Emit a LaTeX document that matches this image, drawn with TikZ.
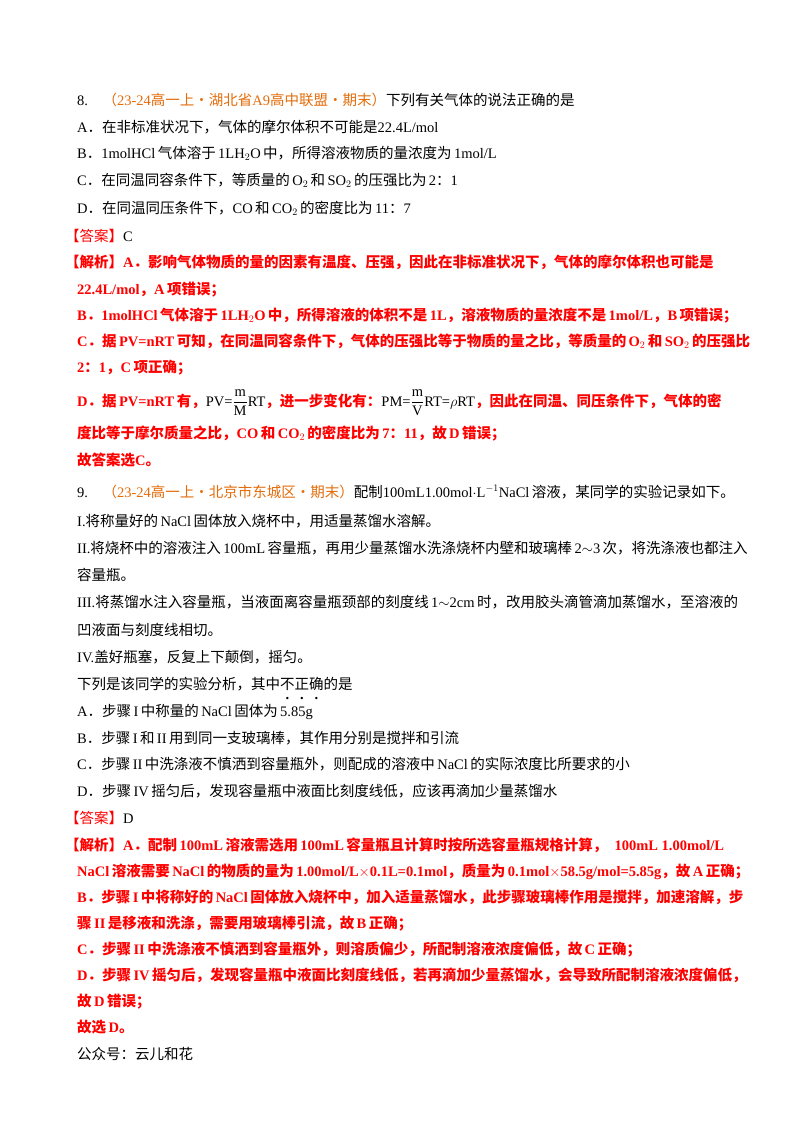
\documentclass[tikz,border=0pt]{standalone}
\usepackage{amsmath}
\usepackage{fontspec}
\setmainfont{Liberation Serif}
\newfontfamily\cjk{Noto Sans CJK SC}
\definecolor{org}{HTML}{E46C0A}
\definecolor{rd}{HTML}{FF0000}
\tikzset{ln/.style={anchor=base west,inner sep=0pt,font=\fontsize{14.5}{16}\selectfont},
 r/.style={ln,text=rd}}
\newcommand\cn[1]{{\cjk #1}}
\newcommand\dotc[1]{\ooalign{#1\cr\hidewidth\smash{\raisebox{-0.72em}{\rmfamily\bfseries .}}\hidewidth\cr}}
\begin{document}
\begin{tikzpicture}[x=1pt,y=-1pt]
\useasboundingbox[fill=white] (0,0) rectangle (800,1132);
\node[ln] (l1) at (77,105) {8.\quad\textcolor{org}{\cn{（}23-24\cn{高一上·湖北省}A9\cn{高中联盟·期末）}}\cn{下列有关气体的说法正确的是}};
\node[ln] (l2) at (77,132) {A\cn{．在非标准状况下，气体的摩尔体积不可能是}22.4L/mol};
\node[ln] (l3) at (77,158) {B\cn{．}1molHCl\,\cn{气体溶于}\,1LH$_2$O\,\cn{中，所得溶液物质的量浓度为}\,1mol/L};
\node[ln] (l4) at (77,185) {C\cn{．在同温同容条件下，等质量的}\,O$_2$\,\cn{和}\,SO$_2$\,\cn{的压强比为}\,2\cn{：}1};
\node[ln] (l5) at (77,213) {D\cn{．在同温同压条件下，}CO\,\cn{和}\,CO$_2$\,\cn{的密度比为}\,11\cn{：}7};
\node[r] (l6) at (65,241) {\cn{【答案】}\textcolor{black}{C}};
\node[r] (l7) at (65,267) {\bfseries\cn{【解析】}A\cn{．影响气体物质的量的因素有温度、压强，因此在非标准状况下，气体的摩尔体积也可能是}};
\node[r] (l8) at (77,294) {\bfseries 22.4L/mol\cn{，}A\,\cn{项错误；}};
\node[r] (l9) at (77,320) {\bfseries B\cn{．}1molHCl\,\cn{气体溶于}\,1LH$_2$O\,\cn{中，所得溶液的体积不是}\,1L\cn{，溶液物质的量浓度不是}\,1mol/L\cn{，}B\,\cn{项错误；}};
\node[r] (l10) at (77,346) {\bfseries C\cn{．据}\,PV=nRT\,\cn{可知，在同温同容条件下，气体的压强比等于物质的量之比，等质量的}\,O$_2$\,\cn{和}\,SO$_2$\,\cn{的压强比}};
\node[r] (l11) at (77,372) {\bfseries 2\cn{：}1\cn{，}C\,\cn{项正确；}};
\node[r] (l12) at (77,406) {\bfseries D\cn{．据}\,PV=nRT\,\cn{有，}\textcolor{black}{\mdseries PV=$\dfrac{\mathrm m}{\mathrm M}$RT}\cn{，进一步变化有：}\textcolor{black}{\mdseries PM=$\dfrac{\mathrm m}{\mathrm V}$RT=$\rho$RT}\cn{，因此在同温、同压条件下，气体的密}};
\node[r] (l13) at (77,438) {\bfseries\cn{度比等于摩尔质量之比，}CO\,\cn{和}\,CO$_2$\,\cn{的密度比为}\,7\cn{：}11\cn{，故}\,D\,\cn{错误；}};
\node[r] (l14) at (77,465) {\bfseries\cn{故答案选}C\cn{。}};
\node[ln] (l15) at (77,497) {9.\quad\textcolor{org}{\cn{（}23-24\cn{高一上·北京市东城区·期末）}}\cn{配制}100mL1.00mol$\cdot$L$^{-1}$NaCl\,\cn{溶液，某同学的实验记录如下。}};
\node[ln] (l16) at (77,526) {I.\cn{将称量好的}\,NaCl\,\cn{固体放入烧杯中，用适量蒸馏水溶解。}};
\node[ln] (l17) at (77,553) {II.\cn{将烧杯中的溶液注入}\,100mL\,\cn{容量瓶，再用少量蒸馏水洗涤烧杯内壁和玻璃棒}\,2$\sim$3\,\cn{次，将洗涤液也都注入}};
\node[ln] (l18) at (77,580) {\cn{容量瓶。}};
\node[ln] (l19) at (77,607) {III.\cn{将蒸馏水注入容量瓶，当液面离容量瓶颈部的刻度线}\,1$\sim$2cm\,\cn{时，改用胶头滴管滴加蒸馏水，至溶液的}};
\node[ln] (l20) at (77,635) {\cn{凹液面与刻度线相切。}};
\node[ln] (l21) at (77,662) {IV.\cn{盖好瓶塞，反复上下颠倒，摇匀。}};
\node[ln] (l22) at (77,689) {\cn{下列是该同学的实验分析，其中}\dotc{\cn{不}}\dotc{\cn{正}}\dotc{\cn{确}}\cn{的是}};
\node[ln] (l23) at (77,716) {A\cn{．步骤}\,I\,\cn{中称量的}\,NaCl\,\cn{固体为}\,5.85g};
\node[ln] (l24) at (77,743) {B\cn{．步骤}\,I\,\cn{和}\,II\,\cn{用到同一支玻璃棒，其作用分别是搅拌和引流}};
\node[ln] (l25) at (77,769) {C\cn{．步骤}\,II\,\cn{中洗涤液不慎洒到容量瓶外，则配成的溶液中}\,NaCl\,\cn{的实际浓度比所要求的小}};
\node[ln] (l26) at (77,796) {D\cn{．步骤}\,IV\,\cn{摇匀后，发现容量瓶中液面比刻度线低，应该再滴加少量蒸馏水}};
\node[r] (l27) at (65,823) {\cn{【答案】}\textcolor{black}{D}};
\node[r] (l28) at (65,850) {\bfseries\cn{【解析】}A\cn{．配制}\,100mL\,\cn{溶液需选用}\,100mL\,\cn{容量瓶且计算时按所选容量瓶规格计算，}\ \ 100mL 1.00mol/L};
\node[r] (l29) at (77,876) {\bfseries NaCl\,\cn{溶液需要}\,NaCl\,\cn{的物质的量为}\,1.00mol/L$\times$0.1L=0.1mol\cn{，质量为}\,0.1mol$\times$58.5g/mol=5.85g\cn{，故}\,A\,\cn{正确；}};
\node[r] (l30) at (77,902) {\bfseries B\cn{．步骤}\,I\,\cn{中将称好的}\,NaCl\,\cn{固体放入烧杯中，加入适量蒸馏水，此步骤玻璃棒作用是搅拌，加速溶解，步}};
\node[r] (l31) at (77,928) {\bfseries\cn{骤}\,II\,\cn{是移液和洗涤，需要用玻璃棒引流，故}\,B\,\cn{正确；}};
\node[r] (l32) at (77,954) {\bfseries C\cn{．步骤}\,II\,\cn{中洗涤液不慎洒到容量瓶外，则溶质偏少，所配制溶液浓度偏低，故}\,C\,\cn{正确；}};
\node[r] (l33) at (77,980) {\bfseries D\cn{．步骤}\,IV\,\cn{摇匀后，发现容量瓶中液面比刻度线低，若再滴加少量蒸馏水，会导致所配制溶液浓度偏低，}};
\node[r] (l34) at (77,1006) {\bfseries\cn{故}\,D\,\cn{错误；}};
\node[r] (l35) at (77,1032) {\bfseries\cn{故选}\,D\cn{。}};
\node[ln] (l36) at (77,1059) {\cn{公众号：云儿和花}};
\end{tikzpicture}
\end{document}
